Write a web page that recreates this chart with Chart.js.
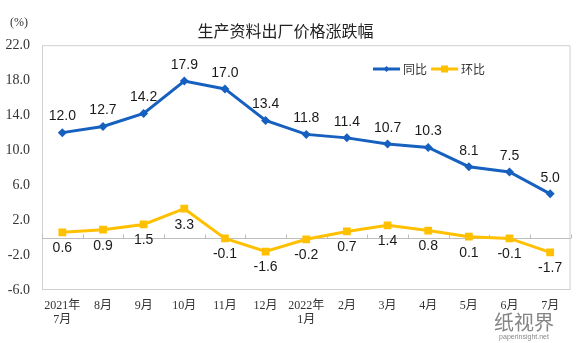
<!DOCTYPE html>
<html>
<head>
<meta charset="utf-8">
<script src="https://cdn.jsdelivr.net/npm/chart.js@4/dist/chart.umd.min.js"></script>
<style>
  html, body { margin: 0; padding: 0; background: #fff; }
</style>
</head>
<body>
<canvas id="ppi-line" width="576" height="343"></canvas>
<script>
// months on the x axis, two-line labels where the year changes
const months = [["2021年", "7月"], "8月", "9月", "10月", "11月", "12月", ["2022年", "1月"], "2月", "3月", "4月", "5月", "6月", "7月"];
const yoy = [12.0, 12.7, 14.2, 17.9, 17.0, 13.4, 11.8, 11.4, 10.7, 10.3, 8.1, 7.5, 5.0];   // 同比
const mom = [0.6, 0.9, 1.5, 3.3, -0.1, -1.6, -0.2, 0.7, 1.4, 0.8, 0.1, -0.1, -1.7];       // 环比
const seriesNames = ["同比", "环比"];
const yMin = -6, yMax = 22, yStep = 4;

const BLUE = "#1660c0";
const YELLOW = "#ffc000";

// box, zero line, value labels, legend and the small texts
const extras = {
    id: "extras",
    beforeDatasetsDraw(chart) {
        const ctx = chart.ctx, a = chart.chartArea;
        const x = chart.scales.x, y = chart.scales.y;
        ctx.save();
        ctx.strokeStyle = "#d0d0d0";
        ctx.lineWidth = 1;
        ctx.strokeRect(a.left + 0.5, a.top + 0.5, a.right - a.left - 1, a.bottom - a.top - 1);
        // zero line with category ticks
        const y0 = Math.round(y.getPixelForValue(0)) + 0.5;
        ctx.strokeStyle = "#bdbdbd";
        ctx.beginPath();
        ctx.moveTo(a.left, y0);
        ctx.lineTo(a.right, y0);
        for (let i = 0; i <= months.length; i++) {
            const px = Math.round(i === 0 ? a.left : i === months.length ? a.right
                : (x.getPixelForValue(i - 1) + x.getPixelForValue(i)) / 2) + 0.5;
            ctx.moveTo(px, y0);
            ctx.lineTo(px, y0 - 4);
        }
        ctx.stroke();
        ctx.restore();
    },
    afterDatasetsDraw(chart) {
        const ctx = chart.ctx;
        ctx.save();
        ctx.font = "14px 'Liberation Sans', Arial, sans-serif";
        ctx.fillStyle = "#1a1a1a";
        ctx.textAlign = "center";
        ctx.textBaseline = "middle";
        chart.data.datasets.forEach((ds, di) => {
            const meta = chart.getDatasetMeta(di);
            meta.data.forEach((pt, i) => {
                const off = di === 0 ? -16 : 16;
                ctx.fillText(ds.data[i].toFixed(1), pt.x, pt.y + off);
            });
        });

        // legend
        ctx.font = "12px 'Noto Sans CJK SC', sans-serif";
        ctx.textAlign = "left";
        const ly = 69;
        const items = [
            { x: 373, color: BLUE, style: "diamond" },
            { x: 431, color: YELLOW, style: "square" }
        ];
        items.forEach((it, i) => {
            ctx.strokeStyle = it.color;
            ctx.fillStyle = it.color;
            ctx.lineWidth = 3;
            ctx.beginPath();
            ctx.moveTo(it.x, ly);
            ctx.lineTo(it.x + 27, ly);
            ctx.stroke();
            const cx = it.x + 13.5;
            ctx.beginPath();
            if (it.style === "diamond") {
                ctx.moveTo(cx, ly - 3); ctx.lineTo(cx + 3, ly); ctx.lineTo(cx, ly + 3); ctx.lineTo(cx - 3, ly);
            } else {
                ctx.rect(cx - 3.5, ly - 3.5, 7, 7);
            }
            ctx.fill();
            ctx.fillStyle = "#333";
            ctx.fillText(seriesNames[i], it.x + 30, ly);
        });

        // unit
        ctx.font = "12px 'Liberation Serif', serif";
        ctx.fillStyle = "#333";
        ctx.textAlign = "center";
        ctx.fillText("(%)", 19, 23);

        // watermark
        ctx.fillStyle = "#858585";
        ctx.font = "20px 'Noto Sans CJK SC', sans-serif";
        ctx.fillText("纸视界", 524, 322);
        ctx.font = "7px 'Liberation Sans', sans-serif";
        ctx.fillStyle = "#888";
        ctx.fillText("paperinsight.net", 524, 337);
        ctx.restore();
    }
};

new Chart(document.getElementById("ppi-line"), {
    type: "line",
    data: {
        labels: months,
        datasets: [{
            label: seriesNames[0],
            data: yoy,
            borderColor: BLUE,
            backgroundColor: BLUE,
            borderWidth: 3,
            pointStyle: "rectRot",
            pointRadius: 4.5,
            pointBorderWidth: 0,
            tension: 0
        }, {
            label: seriesNames[1],
            data: mom,
            borderColor: YELLOW,
            backgroundColor: YELLOW,
            borderWidth: 3,
            pointStyle: "rect",
            pointRadius: 5.5,
            pointBorderWidth: 0,
            tension: 0
        }]
    },
    options: {
        responsive: false,
        animation: false,
        layout: { padding: { left: 0, right: 5, top: 0, bottom: 0 } },
        plugins: {
            legend: { display: false },
            tooltip: { enabled: false },
            title: {
                display: true,
                text: "生产资料出厂价格涨跌幅",
                color: "#222",
                font: { family: "'Noto Sans CJK SC', sans-serif", size: 16, weight: "normal" },
                padding: { top: 21, bottom: 5 }
            }
        },
        scales: {
            x: {
                offset: true,
                grid: { display: false },
                border: { display: false },
                ticks: {
                    color: "#333",
                    padding: 1,
                    maxRotation: 0,
                    autoSkip: false,
                    font: { family: "'Liberation Serif', 'Noto Sans CJK SC', serif", size: 12, lineHeight: 1.15 }
                },
                afterFit(s) { s.height = 53; }
            },
            y: {
                min: yMin,
                max: yMax,
                grid: { display: false },
                border: { display: false },
                ticks: {
                    stepSize: yStep,
                    color: "#333",
                    padding: 4,
                    font: { family: "'Liberation Serif', serif", size: 14 },
                    callback: v => v.toFixed(1)
                },
                afterFit(s) { s.width = 42; }
            }
        }
    },
    plugins: [extras]
});
</script>
</body>
</html>
